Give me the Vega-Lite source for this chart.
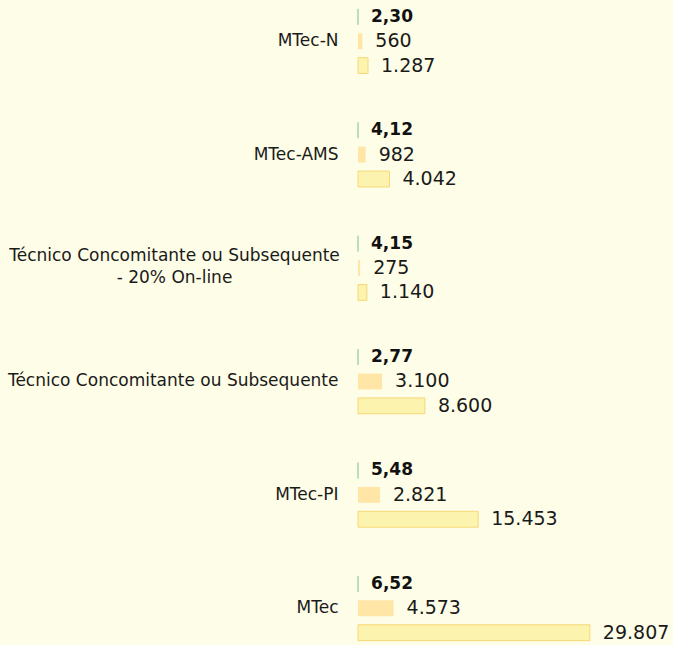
{
  "$schema": "https://vega.github.io/schema/vega-lite/v6.json",
  "width": 315,
  "height": 645,
  "autosize": {"type": "none"},
  "padding": {"left": 358, "top": 0, "right": 0, "bottom": 0},
  "background": "#FEFDE7",
  "config": {"view": {"stroke": null}, "font": "DejaVu Sans"},
  "data": {
    "values": [
      {"category": "MTec-N", "metric": "ratio", "value": 2.30, "label": "2,30"},
      {"category": "MTec-N", "metric": "mid", "value": 560, "label": "560"},
      {"category": "MTec-N", "metric": "total", "value": 1287, "label": "1.287"},
      {"category": "MTec-AMS", "metric": "ratio", "value": 4.12, "label": "4,12"},
      {"category": "MTec-AMS", "metric": "mid", "value": 982, "label": "982"},
      {"category": "MTec-AMS", "metric": "total", "value": 4042, "label": "4.042"},
      {"category": "Técnico Concomitante ou Subsequente - 20% On-line", "metric": "ratio", "value": 4.15, "label": "4,15"},
      {"category": "Técnico Concomitante ou Subsequente - 20% On-line", "metric": "mid", "value": 275, "label": "275"},
      {"category": "Técnico Concomitante ou Subsequente - 20% On-line", "metric": "total", "value": 1140, "label": "1.140"},
      {"category": "Técnico Concomitante ou Subsequente", "metric": "ratio", "value": 2.77, "label": "2,77"},
      {"category": "Técnico Concomitante ou Subsequente", "metric": "mid", "value": 3100, "label": "3.100"},
      {"category": "Técnico Concomitante ou Subsequente", "metric": "total", "value": 8600, "label": "8.600"},
      {"category": "MTec-PI", "metric": "ratio", "value": 5.48, "label": "5,48"},
      {"category": "MTec-PI", "metric": "mid", "value": 2821, "label": "2.821"},
      {"category": "MTec-PI", "metric": "total", "value": 15453, "label": "15.453"},
      {"category": "MTec", "metric": "ratio", "value": 6.52, "label": "6,52"},
      {"category": "MTec", "metric": "mid", "value": 4573, "label": "4.573"},
      {"category": "MTec", "metric": "total", "value": 29807, "label": "29.807"}
    ]
  },
  "encoding": {
    "y": {
      "field": "category",
      "type": "nominal",
      "sort": ["MTec-N", "MTec-AMS", "Técnico Concomitante ou Subsequente - 20% On-line", "Técnico Concomitante ou Subsequente", "MTec-PI", "MTec"],
      "scale": {"range": [-15.5, 665], "paddingInner": 0, "paddingOuter": 0},
      "axis": {
        "title": null,
        "domain": false,
        "ticks": false,
        "labelPadding": {"condition": {"test": "datum.value == 'Técnico Concomitante ou Subsequente - 20% On-line'", "value": 184}, "value": 20},
        "labelAlign": {"condition": {"test": "datum.value == 'Técnico Concomitante ou Subsequente - 20% On-line'", "value": "center"}, "value": "right"},
        "labelOffset": {"condition": {"test": "datum.value == 'Técnico Concomitante ou Subsequente - 20% On-line'", "value": -12}, "value": 0},
        "labelFont": "DejaVu Sans",
        "labelFontSize": 17,
        "labelColor": "#1a1a1a",
        "labelLimit": 400,
        "labelLineHeight": 22,
        "labelExpr": "datum.value == 'Técnico Concomitante ou Subsequente - 20% On-line' ? ['Técnico Concomitante ou Subsequente', '- 20% On-line'] : datum.value"
      }
    },
    "yOffset": {
      "field": "metric",
      "type": "nominal",
      "sort": ["ratio", "mid", "total"],
      "scale": {"paddingInner": 0.35, "paddingOuter": 1.1}
    },
    "x": {
      "field": "value",
      "type": "quantitative",
      "scale": {"domain": [0, 40500]},
      "axis": null
    }
  },
  "layer": [
    {
      "mark": {"type": "bar", "strokeWidth": 1},
      "encoding": {
        "fill": {
          "field": "metric",
          "type": "nominal",
          "scale": {"domain": ["ratio", "mid", "total"], "range": ["#A8D3AE", "#FFE6A6", "#FCF3AE"]},
          "legend": null
        },
        "stroke": {
          "field": "metric",
          "type": "nominal",
          "scale": {"domain": ["ratio", "mid", "total"], "range": ["#A8D3AE", "transparent", "#F6D878"]},
          "legend": null
        }
      }
    },
    {
      "transform": [{"filter": "datum.metric == 'ratio'"}],
      "mark": {"type": "text", "align": "left", "dx": 13, "fontWeight": "bold", "fontSize": 17, "color": "#111111"},
      "encoding": {"text": {"field": "label", "type": "nominal"}}
    },
    {
      "transform": [{"filter": "datum.metric != 'ratio'"}],
      "mark": {"type": "text", "align": "left", "dx": 13, "fontSize": 19, "color": "#1a1a1a"},
      "encoding": {"text": {"field": "label", "type": "nominal"}}
    }
  ]
}
